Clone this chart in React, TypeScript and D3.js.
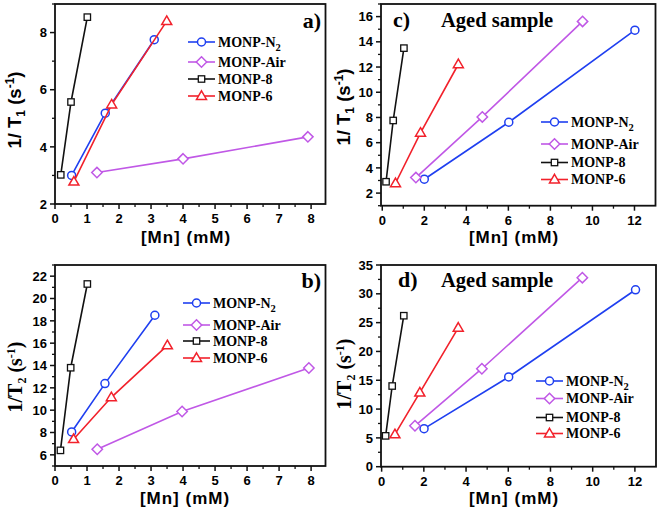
import React from "react";
import * as d3 from "d3";

const seriesNames = ["MONP-N2", "MONP-Air", "MONP-8", "MONP-6"];
const seriesColors = ["#1f3ff0", "#c058e6", "#111111", "#f2212b"];
const seriesMarkers = ["circle", "diamond", "square", "triangle"];

// Panel a) 1/T1
const aN2 = [[0.52, 3.0], [1.57, 5.18], [3.1, 7.75]];
const aAir = [[1.31, 3.1], [4.0, 3.58], [7.9, 4.35]];
const a8 = [[0.18, 3.02], [0.5, 5.57], [1.01, 8.54]];
const a6 = [[0.59, 2.78], [1.77, 5.48], [3.49, 8.4]];
// Panel b) 1/T2
const bN2 = [[0.52, 8.05], [1.56, 12.38], [3.12, 18.5]];
const bAir = [[1.32, 6.5], [3.97, 9.88], [7.93, 13.78]];
const b8 = [[0.17, 6.4], [0.49, 13.8], [1.01, 21.3]];
const b6 = [[0.58, 7.4], [1.76, 11.15], [3.51, 15.8]];
// Panel c) aged 1/T1
const cN2 = [[2.0, 3.1], [6.02, 7.62], [12.02, 14.92]];
const cAir = [[1.6, 3.23], [4.76, 8.04], [9.53, 15.62]];
const c8 = [[0.18, 2.9], [0.52, 7.76], [1.03, 13.5]];
const c6 = [[0.63, 2.78], [1.82, 6.78], [3.62, 12.22]];
// Panel d) aged 1/T2
const dN2 = [[2.01, 6.6], [6.02, 15.57], [12.03, 30.7]];
const dAir = [[1.58, 7.1], [4.75, 17.0], [9.51, 32.8]];
const d8 = [[0.19, 5.35], [0.5, 14.0], [1.05, 26.2]];
const d6 = [[0.63, 5.6], [1.81, 12.85], [3.63, 24.1]];

// Ticks
const abXMajor = [0, 1, 2, 3, 4, 5, 6, 7, 8];
const abXMinor = [0.5, 1.5, 2.5, 3.5, 4.5, 5.5, 6.5, 7.5];
const aYMajor = [2, 4, 6, 8];
const aYMinor = [3, 5, 7, 9];
const bYMajor = [6, 8, 10, 12, 14, 16, 18, 20, 22];
const bYMinor = [5, 7, 9, 11, 13, 15, 17, 19, 21, 23];
const cdXMajor = [0, 2, 4, 6, 8, 10, 12];
const cdXMinor = [1, 3, 5, 7, 9, 11];
const cYMajor = [2, 4, 6, 8, 10, 12, 14, 16];
const cYMinor = [1, 3, 5, 7, 9, 11, 13, 15, 17];
const dYMajor = [0, 5, 10, 15, 20, 25, 30, 35];
const dYMinor = [2.5, 7.5, 12.5, 17.5, 22.5, 27.5, 32.5];

const SANS = "'Liberation Sans', Arial, sans-serif";
const SERIF = "'Liberation Serif', 'Times New Roman', serif";

type Cfg = {
  left: number; right: number; top: number; bottom: number;
  xDomain: [number, number]; yDomain: [number, number];
  xMajor: number[]; xMinor: number[]; yMajor: number[]; yMinor: number[];
  data: number[][][];
  legendX: number; legendYs: number[];
  label: string; labelX: number; labelY: number; labelAnchor: string;
  aged: boolean;
  yTitleSub: string; yTitleSerif: boolean; yTitleX: number; yTitleY: number;
  xTitleX: number; xTitleY: number;
};

const panels: Cfg[] = [
  {
    left: 55, right: 325.5, top: 4, bottom: 204,
    xDomain: [0, 8.45], yDomain: [2, 9],
    xMajor: abXMajor, xMinor: abXMinor, yMajor: aYMajor, yMinor: aYMinor,
    data: [aN2, aAir, a8, a6],
    legendX: 188, legendYs: [42, 62, 79, 96],
    label: "a)", labelX: 321, labelY: 28, labelAnchor: "end", aged: false,
    yTitleSub: "1", yTitleSerif: false, yTitleX: 15, yTitleY: 110,
    xTitleX: 186, xTitleY: 243,
  },
  {
    left: 55, right: 325.5, top: 265, bottom: 466,
    xDomain: [0, 8.45], yDomain: [5, 23],
    xMajor: abXMajor, xMinor: abXMinor, yMajor: bYMajor, yMinor: bYMinor,
    data: [bN2, bAir, b8, b6],
    legendX: 183, legendYs: [303, 325, 341, 358],
    label: "b)", labelX: 321, labelY: 288, labelAnchor: "end", aged: false,
    yTitleSub: "2", yTitleSerif: true, yTitleX: 15, yTitleY: 377,
    xTitleX: 185, xTitleY: 504,
  },
  {
    left: 381, right: 655.5, top: 4, bottom: 205.7,
    xDomain: [-0.06, 13], yDomain: [1, 17],
    xMajor: cdXMajor, xMinor: cdXMinor, yMajor: cYMajor, yMinor: cYMinor,
    data: [cN2, cAir, c8, c6],
    legendX: 541, legendYs: [122, 144, 162.5, 179.5],
    label: "c)", labelX: 393, labelY: 27, labelAnchor: "start", aged: true,
    yTitleSub: "1", yTitleSerif: false, yTitleX: 344, yTitleY: 107,
    xTitleX: 514, xTitleY: 243,
  },
  {
    left: 381, right: 656, top: 265, bottom: 466.7,
    xDomain: [-0.03, 13], yDomain: [0, 35],
    xMajor: cdXMajor, xMinor: cdXMinor, yMajor: dYMajor, yMinor: dYMinor,
    data: [dN2, dAir, d8, d6],
    legendX: 536, legendYs: [381, 398.5, 417.5, 433.5],
    label: "d)", labelX: 398, labelY: 287, labelAnchor: "start", aged: true,
    yTitleSub: "2", yTitleSerif: true, yTitleX: 344, yTitleY: 374,
    xTitleX: 514, xTitleY: 504,
  },
];

function Marker({ type, cx, cy, color }: { type: string; cx: number; cy: number; color: string }) {
  const sw = 1.5;
  if (type === "circle") return <circle cx={cx} cy={cy} r={4} fill="white" stroke={color} strokeWidth={sw} />;
  if (type === "diamond")
    return <path d={`M${cx},${cy - 5.2}L${cx + 5.2},${cy}L${cx},${cy + 5.2}L${cx - 5.2},${cy}Z`} fill="white" stroke={color} strokeWidth={sw} />;
  if (type === "square")
    return <rect x={cx - 3.2} y={cy - 3.2} width={6.4} height={6.4} fill="white" stroke={color} strokeWidth={1.3} />;
  return <path d={`M${cx},${cy - 5.2}L${cx + 5},${cy + 3.4}L${cx - 5},${cy + 3.4}Z`} fill="white" stroke={color} strokeWidth={sw} />;
}

function LegendText({ name, x, y }: { name: string; x: number; y: number }) {
  if (name === "MONP-N2") {
    return (
      <text x={x} y={y} dy="0.35em" fontFamily={SERIF} fontWeight="bold" fontSize={14}>
        MONP-N<tspan dy="4" fontSize={10.5}>2</tspan>
      </text>
    );
  }
  return (
    <text x={x} y={y} dy="0.35em" fontFamily={SERIF} fontWeight="bold" fontSize={14}>{name}</text>
  );
}

function Panel({ cfg }: { cfg: Cfg }) {
  const x = d3.scaleLinear().domain(cfg.xDomain).range([cfg.left, cfg.right]);
  const y = d3.scaleLinear().domain(cfg.yDomain).range([cfg.bottom, cfg.top]);
  const line = d3.line<number[]>().x((d) => x(d[0])).y((d) => y(d[1]));
  const axisW = 1.8;
  const serifT = cfg.yTitleSerif;
  return (
    <g>
      {cfg.data.map((s, i) => (
        <g key={i}>
          <path d={line(s) || ""} fill="none" stroke={seriesColors[i]} strokeWidth={1.6} />
          {s.map((p, j) => (
            <Marker key={j} type={seriesMarkers[i]} cx={x(p[0])} cy={y(p[1])} color={seriesColors[i]} />
          ))}
        </g>
      ))}
      <rect x={cfg.left} y={cfg.top} width={cfg.right - cfg.left} height={cfg.bottom - cfg.top}
        fill="none" stroke="#111" strokeWidth={axisW} />
      {cfg.xMajor.map((v) => (
        <g key={"xm" + v}>
          <line x1={x(v)} x2={x(v)} y1={cfg.bottom} y2={cfg.bottom + 5} stroke="#111" strokeWidth={1.5} />
          <text x={x(v)} y={cfg.bottom + 19} textAnchor="middle" fontFamily={SANS} fontWeight="bold" fontSize={13}>{v}</text>
        </g>
      ))}
      {cfg.xMinor.map((v) => (
        <line key={"xn" + v} x1={x(v)} x2={x(v)} y1={cfg.bottom} y2={cfg.bottom + 3} stroke="#111" strokeWidth={1.3} />
      ))}
      {cfg.yMajor.map((v) => (
        <g key={"ym" + v}>
          <line x1={cfg.left} x2={cfg.left - 5} y1={y(v)} y2={y(v)} stroke="#111" strokeWidth={1.5} />
          <text x={cfg.left - 8} y={y(v)} dy="0.36em" textAnchor="end" fontFamily={SANS} fontWeight="bold" fontSize={13}>{v}</text>
        </g>
      ))}
      {cfg.yMinor.map((v) => (
        <line key={"yn" + v} x1={cfg.left} x2={cfg.left - 3} y1={y(v)} y2={y(v)} stroke="#111" strokeWidth={1.3} />
      ))}
      <text x={cfg.xTitleX} y={cfg.xTitleY} textAnchor="middle" fontFamily={SANS} fontWeight="bold" fontSize={17} letterSpacing={1}>[Mn] (mM)</text>
      <text transform={`translate(${cfg.yTitleX},${cfg.yTitleY}) rotate(-90)`} textAnchor="middle"
        dy="0.35em" fontFamily={serifT ? SERIF : SANS} fontWeight="bold" fontSize={serifT ? 20 : 18.5}>
        {serifT ? "1/T" : "1/ T"}<tspan dy="4" fontSize={12}>{cfg.yTitleSub}</tspan>
        <tspan dy="-4">{" (s"}</tspan><tspan dy="-7" fontSize={12}>-1</tspan><tspan dy="7">)</tspan>
      </text>
      {seriesNames.map((n, i) => {
        const ly = cfg.legendYs[i];
        return (
          <g key={n}>
            <line x1={cfg.legendX} x2={cfg.legendX + 27} y1={ly} y2={ly} stroke={seriesColors[i]} strokeWidth={1.6} />
            <Marker type={seriesMarkers[i]} cx={cfg.legendX + 13.5} cy={ly} color={seriesColors[i]} />
            <LegendText name={n} x={cfg.legendX + 30} y={ly} />
          </g>
        );
      })}
      <text x={cfg.labelX} y={cfg.labelY} textAnchor={cfg.labelAnchor as any} fontFamily={SERIF} fontWeight="bold" fontSize={22}>{cfg.label}</text>
      {cfg.aged && (
        <text x={441} y={cfg.labelY} fontFamily={SERIF} fontWeight="bold" fontSize={20.5}>Aged sample</text>
      )}
    </g>
  );
}

export default function App() {
  return (
    <svg width={661} height={513} style={{ position: "absolute", left: 0, top: 0, background: "white" }}>
      <rect width={661} height={513} fill="white" />
      {panels.map((p, i) => (
        <Panel key={i} cfg={p} />
      ))}
    </svg>
  );
}
